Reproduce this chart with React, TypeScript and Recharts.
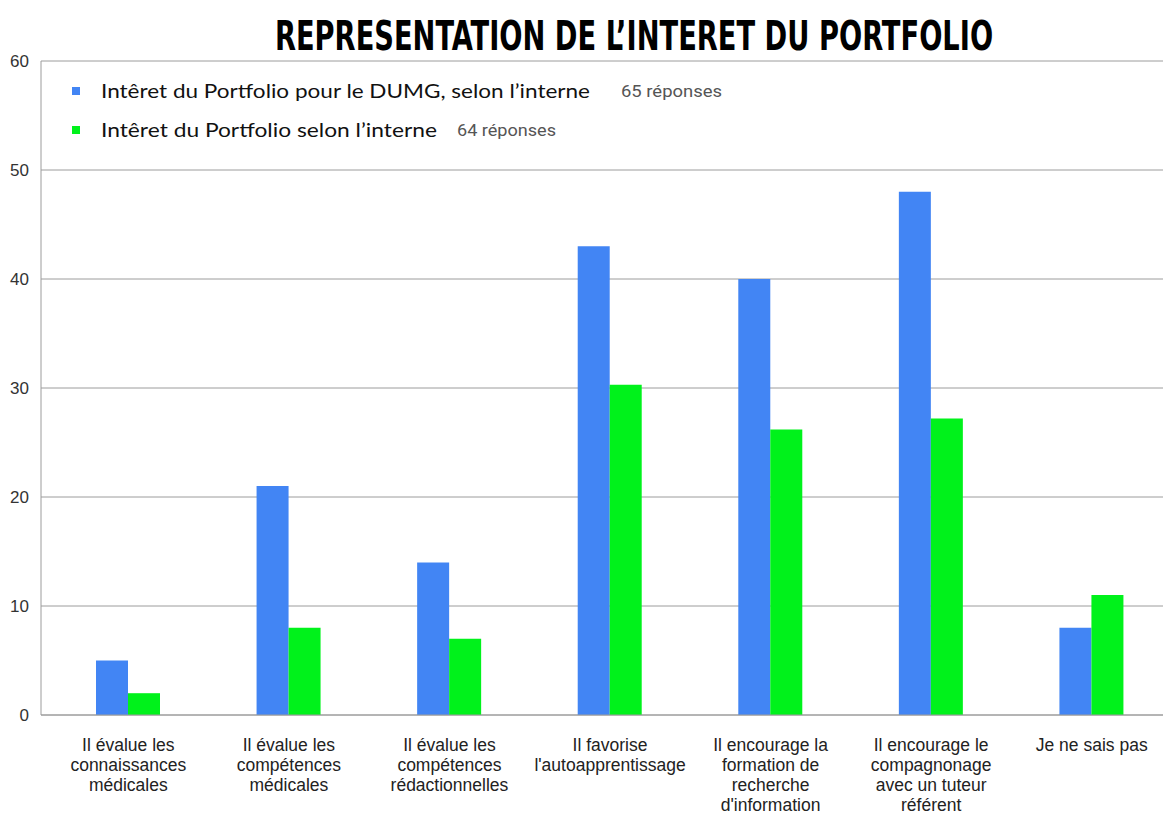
import React from "react";
import { BarChart, Bar, XAxis, YAxis, CartesianGrid } from "recharts";

// categories (line breaks as in the original chart)
const categories = [
  "Il évalue les\nconnaissances\nmédicales",
  "Il évalue les\ncompétences\nmédicales",
  "Il évalue les\ncompétences\nrédactionnelles",
  "Il favorise\nl'autoapprentissage",
  "Il encourage la\nformation de\nrecherche\nd'information",
  "Il encourage le\ncompagnonage\navec un tuteur\nréférent",
  "Je ne sais pas",
];

const dumgValues = [5, 21, 14, 43, 40, 48, 8];
const interneValues = [2, 8, 7, 30.3, 26.2, 27.2, 11];

const seriesNames = [
  "Intêret du Portfolio pour le DUMG, selon l’interne",
  "Intêret du Portfolio selon l’interne",
];
const seriesCounts = ["65 réponses", "64 réponses"];
const seriesColors = ["#4285F4", "#00F21B"];

const yTicks = [0, 10, 20, 30, 40, 50, 60];

const data = categories.map((c, i) => ({
  name: c,
  dumg: dumgValues[i],
  interne: interneValues[i],
}));

const CategoryTick = (props: any) => {
  const { x, y, payload } = props;
  const lines = String(payload.value).split("\n");
  return (
    <g transform={`translate(${x},${y})`}>
      <text
        textAnchor="middle"
        fill="#222"
        fontSize={17.5}
        fontFamily="'Liberation Sans', Arial, sans-serif"
      >
        {lines.map((l, i) => (
          <tspan key={i} x={0} y={36 + i * 20}>
            {l}
          </tspan>
        ))}
      </text>
    </g>
  );
};

// legend rows: [text width, count x, count width]
const legendLayout = [
  { y: 91, textW: 489, countX: 621, countW: 101 },
  { y: 130, textW: 336, countX: 457, countW: 99 },
];

export default function App() {
  return (
    <div
      style={{
        position: "absolute",
        left: 0,
        top: 0,
        width: 1163,
        height: 814,
        overflow: "hidden",
        background: "#fff",
      }}
    >
      <BarChart
        width={1172}
        height={814}
        data={data}
        margin={{ top: 61, right: 0, bottom: 0, left: 0 }}
        barGap={0}
        barSize={32}
      >
        <CartesianGrid vertical={false} stroke="#9c9c9c" />
        <XAxis
          dataKey="name"
          height={99}
          interval={0}
          padding={{ left: 7, right: 0 }}
          axisLine={{ stroke: "#9c9c9c" }}
          tickLine={false}
          tickSize={0}
          tickMargin={0}
          tick={<CategoryTick />}
        />
        <YAxis
          width={41}
          domain={[0, 60]}
          ticks={yTicks}
          axisLine={{ stroke: "#9c9c9c" }}
          tickLine={false}
          tickSize={0}
          tickMargin={12}
          tick={{
            fill: "#333",
            fontSize: 17,
            fontFamily: "'Liberation Sans', Arial, sans-serif",
          }}
        />
        <Bar dataKey="dumg" fill={seriesColors[0]} isAnimationActive={false} />
        <Bar dataKey="interne" fill={seriesColors[1]} isAnimationActive={false} />
      </BarChart>

      {/* title + legend overlay */}
      <svg
        width={1163}
        height={160}
        style={{ position: "absolute", left: 0, top: 0, pointerEvents: "none" }}
      >
        <g transform="translate(634,50) scale(0.7,1)">
          <text
            x={0}
            y={0}
            textAnchor="middle"
            fontSize={40}
            fontWeight="bold"
            fill="#000"
            fontFamily="'Liberation Sans Narrow', 'DejaVu Sans Condensed', Arial, sans-serif"
            textLength={1026}
            lengthAdjust="spacingAndGlyphs"
          >
            REPRESENTATION DE L’INTERET DU PORTFOLIO
          </text>
        </g>
        {legendLayout.map((row, i) => (
          <g key={i}>
            <rect x={72} y={row.y - 4} width={8} height={8} fill={seriesColors[i]} />
            <text
              x={101}
              y={row.y + 7}
              fontSize={19}
              fill="#111"
              fontFamily="Lato, 'Open Sans', sans-serif"
              textLength={row.textW}
              lengthAdjust="spacingAndGlyphs"
            >
              {seriesNames[i]}
            </text>
            <text
              x={row.countX}
              y={row.y + 6}
              fontSize={16}
              fill="#555"
              fontFamily="Roboto, sans-serif"
              textLength={row.countW}
              lengthAdjust="spacingAndGlyphs"
            >
              {seriesCounts[i]}
            </text>
          </g>
        ))}
      </svg>
    </div>
  );
}
